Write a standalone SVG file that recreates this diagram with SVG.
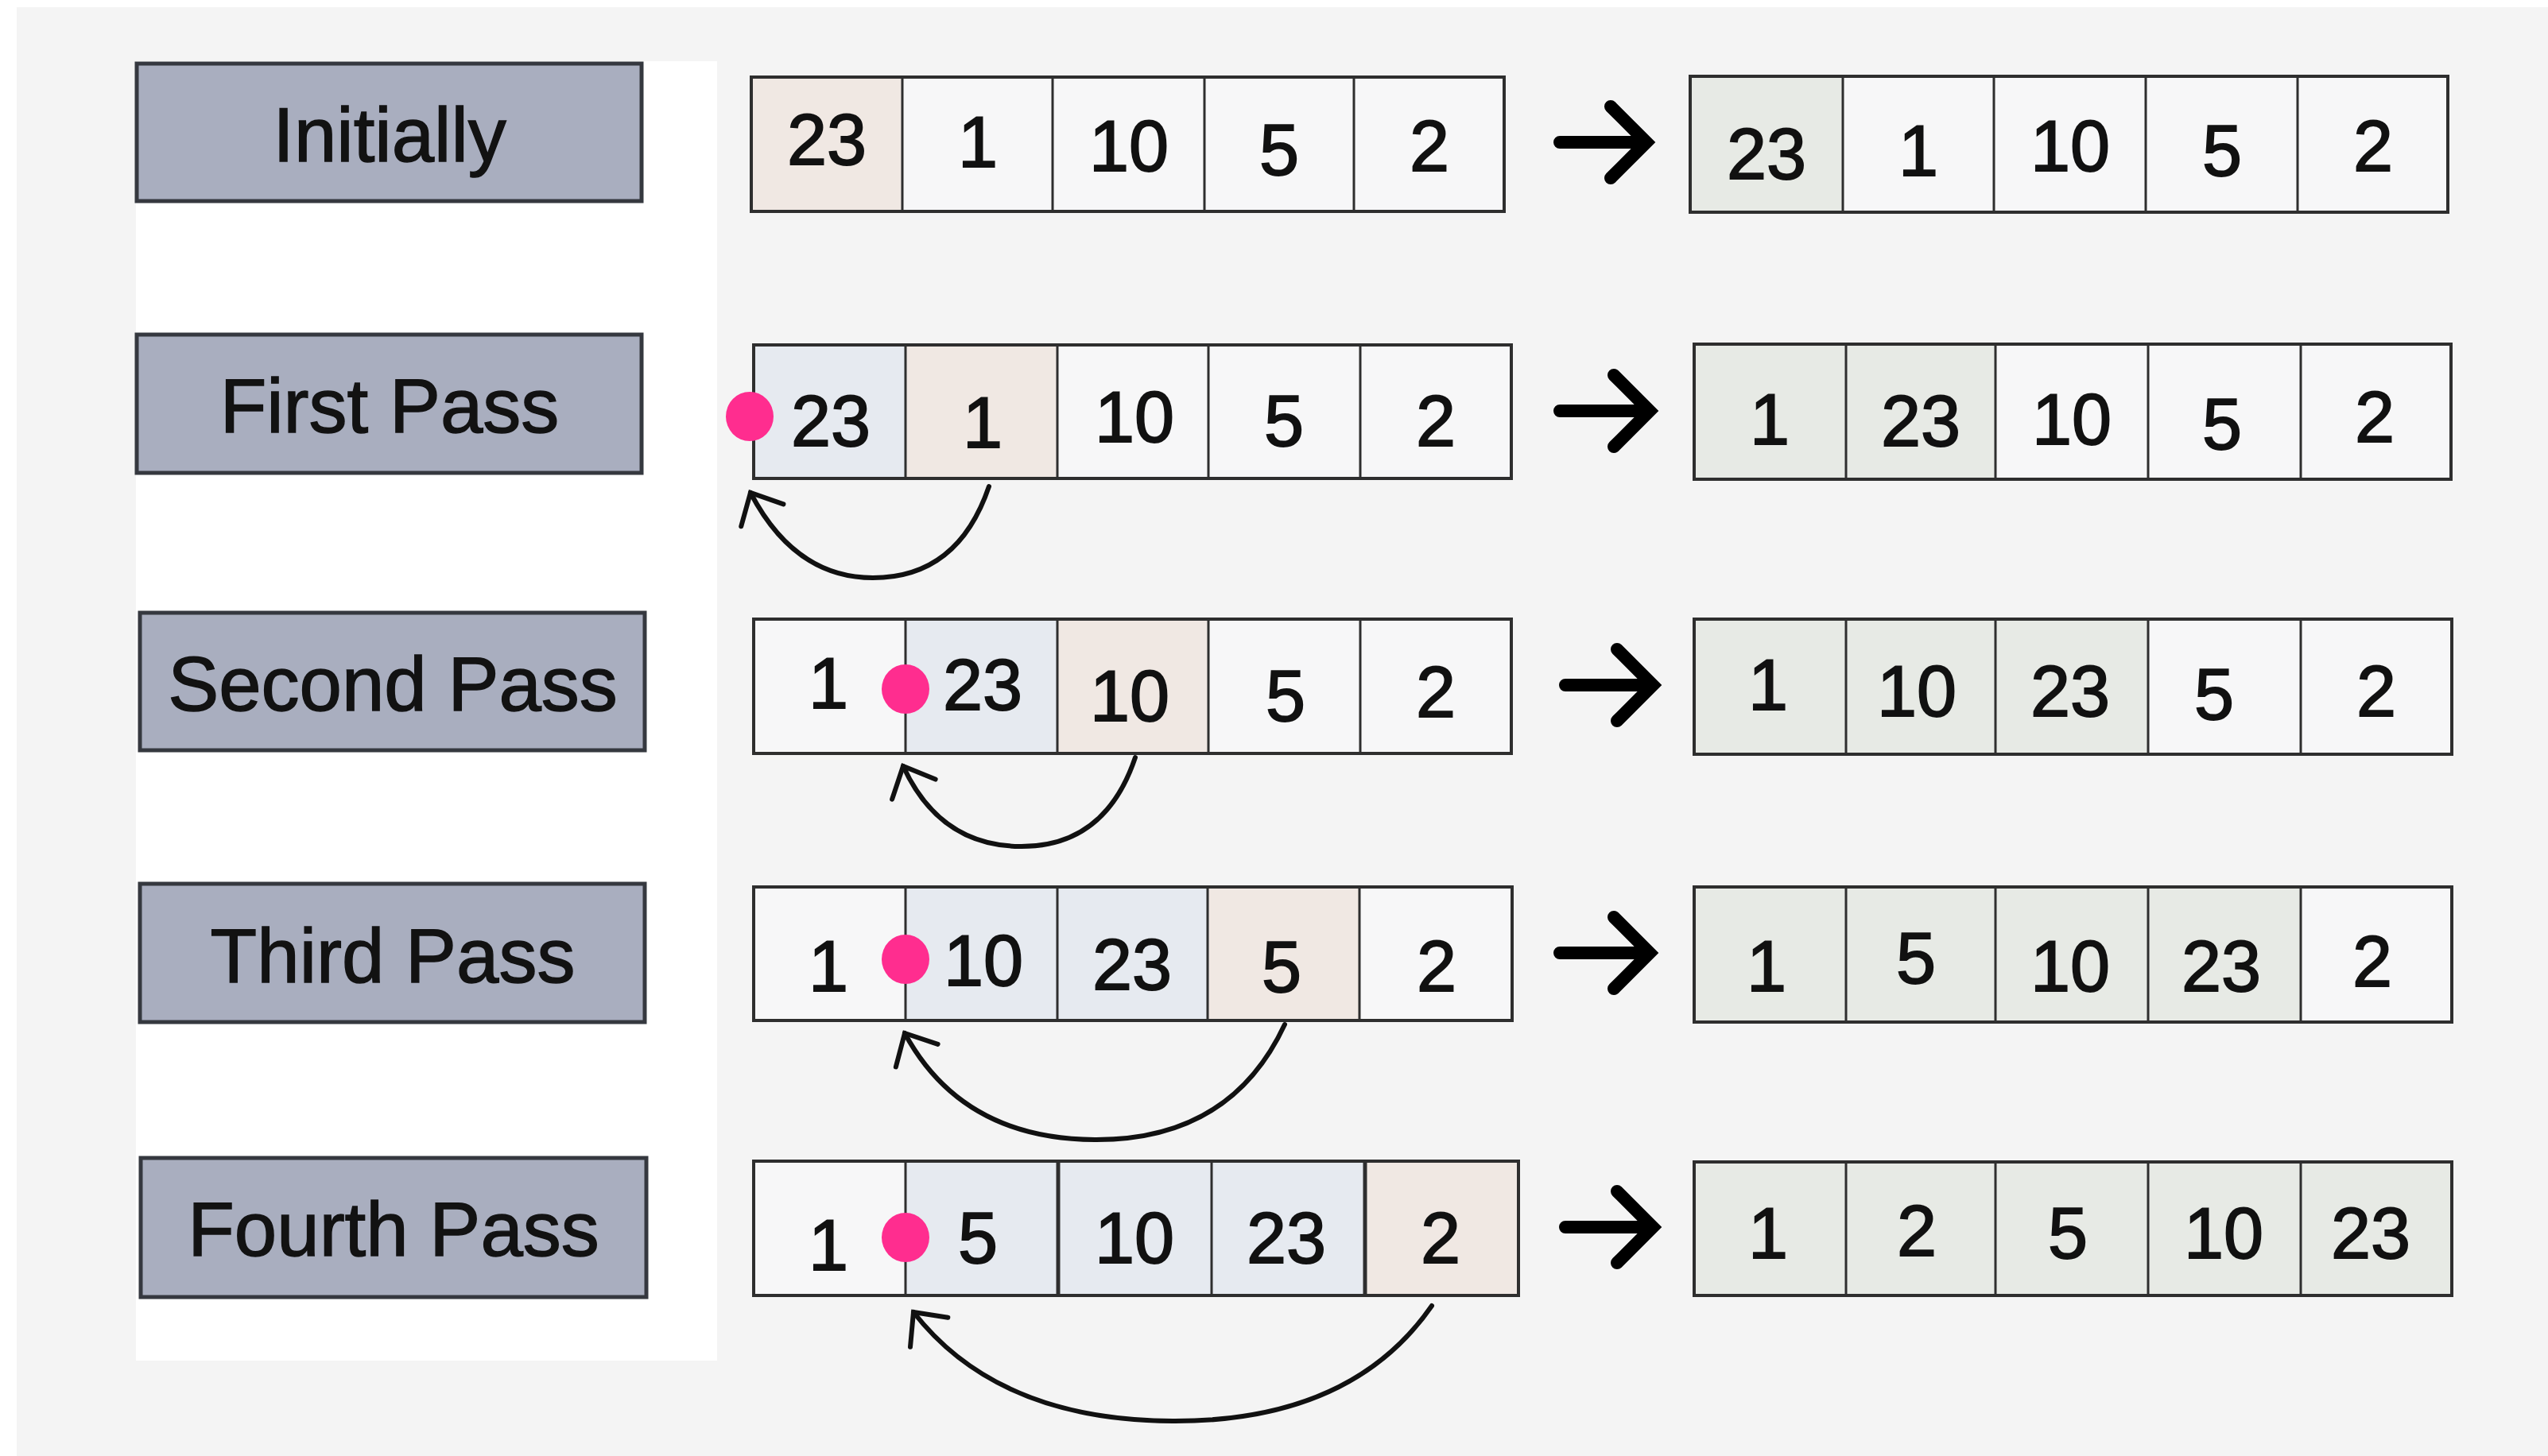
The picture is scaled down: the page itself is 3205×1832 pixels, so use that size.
<svg xmlns="http://www.w3.org/2000/svg" width="3205" height="1832" viewBox="0 0 3205 1832">
<style>
.lbl{fill:#a9aebf;stroke:#35383f;stroke-width:5}
.lt{font-family:"Liberation Sans",Arial,sans-serif;font-size:96px;fill:#121212;stroke:#121212;stroke-width:1.4;text-anchor:middle}
.num{font-family:"Liberation Sans",Arial,sans-serif;font-size:90px;fill:#111;stroke:#111;stroke-width:1.8;text-anchor:middle}
.w{fill:#f7f7f8}
.p{fill:#f0e8e3}
.b{fill:#e6eaf0}
.g{fill:#e7eae5}
.frame{fill:none;stroke:#2e2e2e;stroke-width:4}
.div{stroke:#2e2e2e;stroke-width:3}
.dot{fill:#ff2d8f}
.arc{fill:none;stroke:#111;stroke-width:6;stroke-linecap:round}
.big{fill:none;stroke:#000;stroke-width:16;stroke-linecap:round;stroke-linejoin:miter}
</style>
<defs>
<marker id="ah" markerUnits="userSpaceOnUse" viewBox="-60 -60 120 120" markerWidth="120" markerHeight="120" refX="0" refY="0" orient="auto" overflow="visible">
<path d="M-32,-30 L0,0 L-32,30" fill="none" stroke="#111" stroke-width="6" stroke-linecap="round" stroke-linejoin="miter"/>
</marker>
</defs>
<rect x="0" y="0" width="3205" height="1832" fill="#ffffff"/>
<rect x="21" y="9" width="3184" height="1823" fill="#f4f4f4"/>
<rect x="171" y="77" width="731" height="1635" fill="#ffffff"/>

<g id="label-initially"><rect class="lbl" x="172" y="80" width="635" height="173"/><text class="lt" x="490" y="203">Initially</text></g>
<g id="label-first"><rect class="lbl" x="172" y="421" width="635" height="174"/><text class="lt" x="490" y="544">First Pass</text></g>
<g id="label-second"><rect class="lbl" x="176" y="771" width="635" height="173"/><text class="lt" x="494" y="894">Second Pass</text></g>
<g id="label-third"><rect class="lbl" x="176" y="1112" width="635" height="174"/><text class="lt" x="494" y="1236">Third Pass</text></g>
<g id="label-fourth"><rect class="lbl" x="177" y="1457" width="636" height="175"/><text class="lt" x="495" y="1580">Fourth Pass</text></g>

<!-- Left arrays -->
<g id="arr0-left">
<rect class="p" x="945" y="97" width="190" height="169"/><rect class="w" x="1135" y="97" width="757" height="169"/>
<line class="div" x1="1135" y1="97" x2="1135" y2="266"/><line class="div" x1="1324" y1="97" x2="1324" y2="266"/><line class="div" x1="1515" y1="97" x2="1515" y2="266"/><line class="div" x1="1703" y1="97" x2="1703" y2="266"/>
<rect class="frame" x="945" y="97" width="947" height="169"/>
<text class="num" x="1040" y="207">23</text><text class="num" x="1230" y="210">1</text><text class="num" x="1420" y="215">10</text><text class="num" x="1609" y="220">5</text><text class="num" x="1798" y="215">2</text>
</g>
<g id="arr1-left">
<rect class="b" x="948" y="434" width="191" height="168"/><rect class="p" x="1139" y="434" width="191" height="168"/><rect class="w" x="1330" y="434" width="571" height="168"/>
<line class="div" x1="1139" y1="434" x2="1139" y2="602"/><line class="div" x1="1330" y1="434" x2="1330" y2="602"/><line class="div" x1="1520" y1="434" x2="1520" y2="602"/><line class="div" x1="1711" y1="434" x2="1711" y2="602"/>
<rect class="frame" x="948" y="434" width="953" height="168"/>
<text class="num" x="1045" y="561">23</text><text class="num" x="1236" y="563">1</text><text class="num" x="1427" y="556">10</text><text class="num" x="1615" y="561">5</text><text class="num" x="1806" y="561">2</text>
</g>
<g id="arr2-left">
<rect class="w" x="948" y="779" width="191" height="169"/><rect class="b" x="1139" y="779" width="191" height="169"/><rect class="p" x="1330" y="779" width="190" height="169"/><rect class="w" x="1520" y="779" width="381" height="169"/>
<line class="div" x1="1139" y1="779" x2="1139" y2="948"/><line class="div" x1="1330" y1="779" x2="1330" y2="948"/><line class="div" x1="1520" y1="779" x2="1520" y2="948"/><line class="div" x1="1711" y1="779" x2="1711" y2="948"/>
<rect class="frame" x="948" y="779" width="953" height="169"/>
<text class="num" x="1042" y="891">1</text><text class="num" x="1236" y="893">23</text><text class="num" x="1421" y="907">10</text><text class="num" x="1617" y="907">5</text><text class="num" x="1806" y="902">2</text>
</g>
<g id="arr3-left">
<rect class="w" x="948" y="1116" width="191" height="168"/><rect class="b" x="1139" y="1116" width="380" height="168"/><rect class="p" x="1519" y="1116" width="191" height="168"/><rect class="w" x="1710" y="1116" width="192" height="168"/>
<line class="div" x1="1139" y1="1116" x2="1139" y2="1284"/><line class="div" x1="1330" y1="1116" x2="1330" y2="1284"/><line class="div" x1="1519" y1="1116" x2="1519" y2="1284"/><line class="div" x1="1710" y1="1116" x2="1710" y2="1284"/>
<rect class="frame" x="948" y="1116" width="954" height="168"/>
<text class="num" x="1042" y="1247">1</text><text class="num" x="1237" y="1240">10</text><text class="num" x="1424" y="1245">23</text><text class="num" x="1612" y="1248">5</text><text class="num" x="1807" y="1247">2</text>
</g>
<g id="arr4-left">
<rect class="w" x="948" y="1461" width="191" height="169"/><rect class="b" x="1139" y="1461" width="578" height="169"/><rect class="p" x="1717" y="1461" width="193" height="169"/>
<line class="div" x1="1139" y1="1461" x2="1139" y2="1630"/><line class="div" x1="1331" y1="1461" x2="1331" y2="1630" style="stroke-width:5"/><line class="div" x1="1524" y1="1461" x2="1524" y2="1630"/><line class="div" x1="1717" y1="1461" x2="1717" y2="1630" style="stroke-width:5"/>
<rect class="frame" x="948" y="1461" width="962" height="169"/>
<text class="num" x="1042" y="1598">1</text><text class="num" x="1230" y="1589">5</text><text class="num" x="1427" y="1589">10</text><text class="num" x="1618" y="1589">23</text><text class="num" x="1812" y="1589">2</text>
</g>

<!-- Pink markers -->
<g id="markers">
<ellipse class="dot" cx="943" cy="524" rx="30" ry="31"/>
<ellipse class="dot" cx="1139" cy="867" rx="30" ry="31"/>
<ellipse class="dot" cx="1139" cy="1207" rx="30" ry="31"/>
<ellipse class="dot" cx="1139" cy="1557" rx="30" ry="31"/>
</g>

<!-- Connectors -->
<g id="connectors">
<path class="arc" d="M1244,612 Q1205,727 1098,727 Q1000,727 944,620" marker-end="url(#ah)"/>
<path class="arc" d="M1428,953 Q1390,1066 1283,1065 Q1182,1064 1136,964" marker-end="url(#ah)"/>
<path class="arc" d="M1616,1289 Q1548,1435 1377,1434 Q1210,1433 1138,1300" marker-end="url(#ah)"/>
<path class="arc" d="M1801,1643 Q1700,1789 1475,1788 Q1255,1787 1149,1651" marker-end="url(#ah)"/>
<path class="big" d="M1962,179 L2062,179 M2026,134 L2071,179 L2026,224"/>
<path class="big" d="M1962,517 L2066,517 M2030,472 L2075,517 L2030,562"/>
<path class="big" d="M1969,862 L2070,862 M2034,817 L2079,862 L2034,907"/>
<path class="big" d="M1962,1199 L2066,1199 M2030,1154 L2075,1199 L2030,1244"/>
<path class="big" d="M1969,1544 L2070,1544 M2034,1499 L2079,1544 L2034,1589"/>
</g>

<!-- Right arrays -->
<g id="arr0-right">
<rect class="g" x="2126" y="96" width="192" height="171"/><rect class="w" x="2318" y="96" width="761" height="171"/>
<line class="div" x1="2318" y1="96" x2="2318" y2="267"/><line class="div" x1="2508" y1="96" x2="2508" y2="267"/><line class="div" x1="2699" y1="96" x2="2699" y2="267"/><line class="div" x1="2890" y1="96" x2="2890" y2="267"/>
<rect class="frame" x="2126" y="96" width="953" height="171"/>
<text class="num" x="2222" y="225">23</text><text class="num" x="2413" y="221">1</text><text class="num" x="2604" y="215">10</text><text class="num" x="2795" y="221">5</text><text class="num" x="2985" y="215">2</text>
</g>
<g id="arr1-right">
<rect class="g" x="2131" y="433" width="379" height="170"/><rect class="w" x="2510" y="433" width="573" height="170"/>
<line class="div" x1="2322" y1="433" x2="2322" y2="603"/><line class="div" x1="2510" y1="433" x2="2510" y2="603"/><line class="div" x1="2702" y1="433" x2="2702" y2="603"/><line class="div" x1="2894" y1="433" x2="2894" y2="603"/>
<rect class="frame" x="2131" y="433" width="952" height="170"/>
<text class="num" x="2226" y="559">1</text><text class="num" x="2416" y="561">23</text><text class="num" x="2606" y="559">10</text><text class="num" x="2795" y="565">5</text><text class="num" x="2987" y="556">2</text>
</g>
<g id="arr2-right">
<rect class="g" x="2131" y="779" width="571" height="170"/><rect class="w" x="2702" y="779" width="382" height="170"/>
<line class="div" x1="2322" y1="779" x2="2322" y2="949"/><line class="div" x1="2510" y1="779" x2="2510" y2="949"/><line class="div" x1="2702" y1="779" x2="2702" y2="949"/><line class="div" x1="2894" y1="779" x2="2894" y2="949"/>
<rect class="frame" x="2131" y="779" width="953" height="170"/>
<text class="num" x="2224" y="893">1</text><text class="num" x="2411" y="901">10</text><text class="num" x="2604" y="901">23</text><text class="num" x="2785" y="905">5</text><text class="num" x="2989" y="901">2</text>
</g>
<g id="arr3-right">
<rect class="g" x="2131" y="1116" width="763" height="170"/><rect class="w" x="2894" y="1116" width="190" height="170"/>
<line class="div" x1="2322" y1="1116" x2="2322" y2="1286"/><line class="div" x1="2510" y1="1116" x2="2510" y2="1286"/><line class="div" x1="2702" y1="1116" x2="2702" y2="1286"/><line class="div" x1="2894" y1="1116" x2="2894" y2="1286"/>
<rect class="frame" x="2131" y="1116" width="953" height="170"/>
<text class="num" x="2222" y="1247">1</text><text class="num" x="2410" y="1237">5</text><text class="num" x="2604" y="1247">10</text><text class="num" x="2794" y="1247">23</text><text class="num" x="2984" y="1241">2</text>
</g>
<g id="arr4-right">
<rect class="g" x="2131" y="1462" width="953" height="168"/>
<line class="div" x1="2322" y1="1462" x2="2322" y2="1630"/><line class="div" x1="2510" y1="1462" x2="2510" y2="1630"/><line class="div" x1="2702" y1="1462" x2="2702" y2="1630"/><line class="div" x1="2894" y1="1462" x2="2894" y2="1630"/>
<rect class="frame" x="2131" y="1462" width="953" height="168"/>
<text class="num" x="2224" y="1583">1</text><text class="num" x="2411" y="1580">2</text><text class="num" x="2601" y="1583">5</text><text class="num" x="2797" y="1583">10</text><text class="num" x="2982" y="1583">23</text>
</g>
</svg>
